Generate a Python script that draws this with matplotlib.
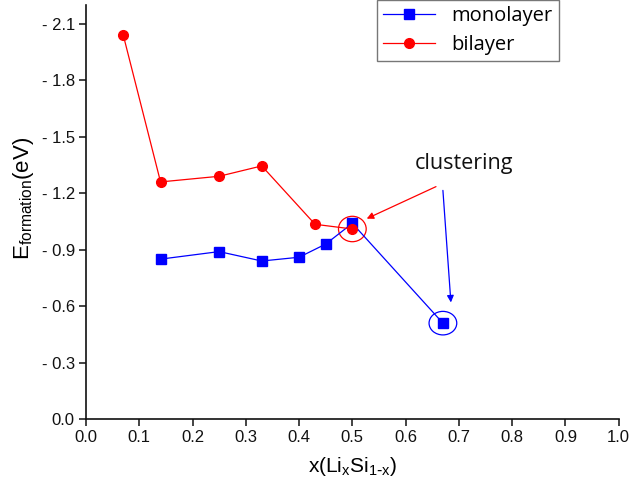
import matplotlib

matplotlib.use("Agg")

import matplotlib.pyplot as plt
from matplotlib.patches import Ellipse

plt.rcParams["font.family"] = ["Liberation Sans", "DejaVu Sans"]

# formation energies vs Li fraction
mono_x = [0.14, 0.25, 0.33, 0.40, 0.45, 0.50, 0.67]
mono_y = [0.85, 0.89, 0.84, 0.86, 0.93, 1.04, 0.51]
bi_x = [0.07, 0.14, 0.25, 0.33, 0.43, 0.50]
bi_y = [2.04, 1.26, 1.29, 1.345, 1.035, 1.01]

y_ticks = [0.0, 0.3, 0.6, 0.9, 1.2, 1.5, 1.8, 2.1]
y_labels = ["0.0", "- 0.3", "- 0.6", "- 0.9", "- 1.2", "- 1.5", "- 1.8", "- 2.1"]
x_ticks = [0.0, 0.1, 0.2, 0.3, 0.4, 0.5, 0.6, 0.7, 0.8, 0.9, 1.0]

BLUE = "#0000ff"
RED = "#ff0000"

fig = plt.figure(figsize=(6.32, 4.92), dpi=100)
ax = fig.add_axes([0.136, 0.148, 0.843, 0.842])

ax.plot(mono_x, mono_y, color=BLUE, lw=0.9, marker="s", ms=6.5,
        mec=BLUE, mfc=BLUE, label="monolayer")
ax.plot(bi_x, bi_y, color=RED, lw=0.9, marker="o", ms=7,
        mec=RED, mfc=RED, label="bilayer")

ax.set_xlim(0, 1.0)
ax.set_ylim(0, 2.2)
ax.set_xticks(x_ticks)
ax.set_xticklabels([f"{t:.1f}" for t in x_ticks])
ax.set_yticks(y_ticks)
ax.set_yticklabels(y_labels)

for side in ("top", "right"):
    ax.spines[side].set_visible(False)
for side in ("left", "bottom"):
    ax.spines[side].set_linewidth(1.2)
    ax.spines[side].set_color("#111111")
ax.tick_params(direction="out", length=5, width=1.1, labelsize=12,
               colors="#111111", pad=3)

ax.set_xlabel(r"x(Li$_\mathregular{x}$Si$_\mathregular{1\text{-}x}$)", fontsize=15, labelpad=7)
ax.set_ylabel(r"E$_\mathregular{formation}$(eV)", fontsize=16)
ax.yaxis.set_label_coords(-0.093, 0.534)

# circled clustering points and arrows
ax.add_patch(Ellipse((0.50, 1.01), 0.052, 0.135, fill=False, ec=RED, lw=0.9))
ax.add_patch(Ellipse((0.67, 0.51), 0.052, 0.125, fill=False, ec=BLUE, lw=0.9))
ax.text(0.617, 1.36, "clustering", fontsize=15.5, family=["Open Sans", "DejaVu Sans"],
        ha="left", va="center", color="#111111")
ax.annotate("", xy=(0.527, 1.065), xytext=(0.657, 1.235),
            arrowprops=dict(arrowstyle="-|>", color=RED, lw=0.9, mutation_scale=10,
                            shrinkA=0, shrinkB=0))
ax.annotate("", xy=(0.685, 0.62), xytext=(0.670, 1.215),
            arrowprops=dict(arrowstyle="-|>", color=BLUE, lw=0.9, mutation_scale=10,
                            shrinkA=0, shrinkB=0))

leg = ax.legend(loc="upper left", bbox_to_anchor=(0.546, 1.012), frameon=True,
                fancybox=False, edgecolor="#555555",
                prop={"family": ["Open Sans", "DejaVu Sans"], "size": 14.5},
                handlelength=2.6, borderpad=0.3, labelspacing=0.45,
                handletextpad=0.8, borderaxespad=0)
leg.get_frame().set_linewidth(1.0)

fig.savefig("out.png", dpi=100, facecolor="white")
